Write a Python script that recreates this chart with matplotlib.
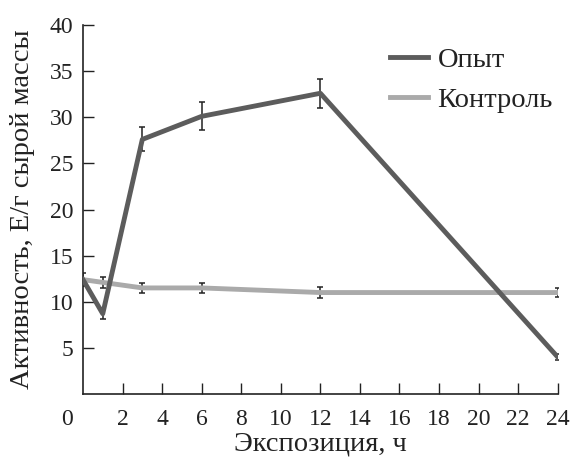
import matplotlib
matplotlib.use("Agg")
import matplotlib.pyplot as plt
from matplotlib.transforms import ScaledTranslation

# Exposure time, h
hours = [0, 1, 3, 6, 12, 24]

# Enzyme activity, U/g fresh weight
experiment = [12.4, 8.7, 27.6, 30.1, 32.6, 4.0]
experiment_err = [0.7, 0.6, 1.3, 1.5, 1.6, 0.3]
control = [12.4, 12.1, 11.5, 11.5, 11.0, 11.0]
control_err = [0.0, 0.6, 0.55, 0.55, 0.55, 0.5]

x_ticks = list(range(0, 25, 2))
y_ticks = [5, 10, 15, 20, 25, 30, 35, 40]

plt.rcParams['font.family'] = ['Liberation Serif', 'DejaVu Serif']

ink = '#222222'

fig = plt.figure(figsize=(5.75, 4.58), dpi=100)
ax = fig.add_axes([0.1443, 0.1397, 0.8257, 0.8057])

ax.errorbar(hours, experiment, yerr=experiment_err, color='#5c5c5c', lw=3.5,
            ecolor=ink, elinewidth=1.1, capsize=2.5, capthick=1.1,
            label='Опыт', zorder=3)
ax.errorbar(hours, control, yerr=control_err, color='#aaaaaa', lw=3.5,
            ecolor=ink, elinewidth=1.1, capsize=2.5, capthick=1.1,
            label='Контроль', zorder=2)

ax.set_xlim(0, 24)
ax.set_ylim(0, 40)
ax.set_xticks(x_ticks)
ax.set_yticks(y_ticks)
ax.tick_params(direction='in', length=8, width=1, colors=ink,
               labelcolor=ink, labelsize=17)
ax.tick_params(axis='x', pad=11)
ax.tick_params(axis='y', pad=7)

# the zero label sits left of the corner, no tick mark there
ax.xaxis.get_major_ticks()[0].tick1line.set_visible(False)
zero = ax.get_xticklabels()[0]
zero.set_transform(zero.get_transform() + ScaledTranslation(-0.155, 0, fig.dpi_scale_trans))

for side in ('top', 'right'):
    ax.spines[side].set_visible(False)
for side in ('left', 'bottom'):
    ax.spines[side].set_color(ink)
    ax.spines[side].set_linewidth(1.2)

ax.set_xlabel('Экспозиция, ч', fontsize=20.5, color=ink, labelpad=1)
ax.set_ylabel('Активность, Е/г сырой массы', fontsize=20.5, color=ink)
ax.yaxis.set_label_coords(-0.1, 0.5)

handles, labels = ax.get_legend_handles_labels()
lines = [h[0] for h in handles]
ax.legend(lines, labels, loc='upper left', bbox_to_anchor=(0.646, 0.94),
          frameon=False, borderpad=0, borderaxespad=0, handlelength=1.35,
          handletextpad=0.33, labelspacing=0.5, fontsize=20.5, labelcolor=ink)

fig.savefig('out.png', dpi=100)
